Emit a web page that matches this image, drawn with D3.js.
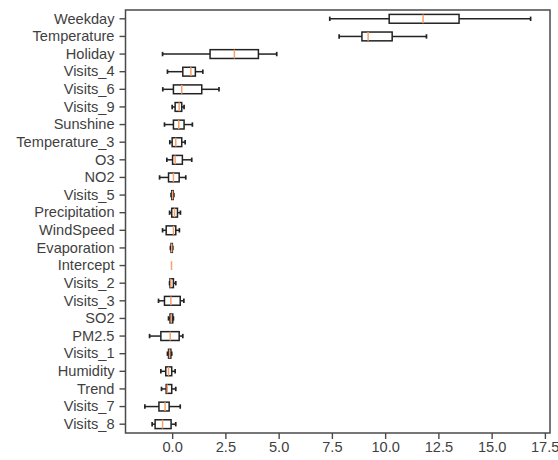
<!DOCTYPE html>
<html><head><meta charset="utf-8">
<script src="https://cdn.jsdelivr.net/npm/d3@7"></script>
<style>
body{margin:0;background:#fff;}
svg{display:block;font-family:"Liberation Sans",Arial,sans-serif;}
</style></head>
<body><svg id="c" width="558" height="460"></svg>
<script>
const categories = ["Weekday","Temperature","Holiday","Visits_4","Visits_6","Visits_9","Sunshine","Temperature_3","O3","NO2","Visits_5","Precipitation","WindSpeed","Evaporation","Intercept","Visits_2","Visits_3","SO2","PM2.5","Visits_1","Humidity","Trend","Visits_7","Visits_8"];
const whiskerLow = [7.40,7.84,-0.45,-0.22,-0.44,0.00,-0.36,-0.11,-0.25,-0.59,-0.05,-0.12,-0.45,-0.08,-0.03,-0.12,-0.64,-0.17,-1.06,-0.22,-0.53,-0.50,-1.28,-0.94];
const q1         = [10.19,8.91,1.78,0.50,0.06,0.14,0.06,0.00,0.02,-0.17,-0.02,-0.02,-0.28,-0.05,-0.03,-0.10,-0.36,-0.10,-0.53,-0.17,-0.30,-0.28,-0.62,-0.80];
const median     = [11.78,9.20,2.92,0.88,0.45,0.33,0.31,0.17,0.14,0.06,0.02,0.11,0.06,-0.02,-0.03,-0.06,-0.06,-0.04,-0.09,-0.12,-0.17,-0.23,-0.33,-0.45];
const q3         = [13.47,10.33,4.05,1.09,1.39,0.45,0.56,0.45,0.48,0.33,0.05,0.25,0.17,0.01,-0.03,0.06,0.38,0.03,0.33,-0.06,-0.02,-0.02,-0.14,-0.05];
const whiskerHigh= [16.83,11.94,4.91,1.44,2.20,0.56,0.95,0.61,0.92,0.64,0.08,0.39,0.34,0.03,-0.03,0.17,0.55,0.06,0.50,-0.02,0.14,0.17,0.38,0.17];
const xTicks = [0,2.5,5,7.5,10,12.5,15,17.5];

const data = categories.map((c,i)=>({c,lo:whiskerLow[i],q1:q1[i],med:median[i],q3:q3[i],hi:whiskerHigh[i]}));

const L=125.5, R=550, T=10, B=433;
const svg=d3.select("#c");
const x=d3.scaleLinear().domain([-2.19,17.74]).range([L,R]);
const y=d3.scaleBand().domain(categories).range([T,B]).padding(0);
const bw=y.bandwidth();
const cy=c=>y(c)+bw/2;
const ink="#222", fr="#4a4a4a", txt="#3f3f3f", medC="#f5a36a";

const g=svg.append("g");
const bx=g.selectAll("g.b").data(data).join("g").attr("class","b");
const hb=bw*0.25, hc=bw*0.125;
bx.append("line").attr("x1",d=>x(d.lo)).attr("x2",d=>x(d.q1)).attr("y1",d=>cy(d.c)).attr("y2",d=>cy(d.c)).attr("stroke",ink).attr("stroke-width",1.5);
bx.append("line").attr("x1",d=>x(d.q3)).attr("x2",d=>x(d.hi)).attr("y1",d=>cy(d.c)).attr("y2",d=>cy(d.c)).attr("stroke",ink).attr("stroke-width",1.5);
bx.filter(d=>d.hi>d.lo).append("line").attr("x1",d=>x(d.lo)).attr("x2",d=>x(d.lo)).attr("y1",d=>cy(d.c)-hc).attr("y2",d=>cy(d.c)+hc).attr("stroke",ink).attr("stroke-width",1.7);
bx.filter(d=>d.hi>d.lo).append("line").attr("x1",d=>x(d.hi)).attr("x2",d=>x(d.hi)).attr("y1",d=>cy(d.c)-hc).attr("y2",d=>cy(d.c)+hc).attr("stroke",ink).attr("stroke-width",1.7);
bx.filter(d=>d.q3>d.q1).append("rect").attr("x",d=>x(d.q1)).attr("width",d=>x(d.q3)-x(d.q1)).attr("y",d=>cy(d.c)-hb).attr("height",hb*2).attr("fill","none").attr("stroke",ink).attr("stroke-width",1.5);
bx.append("line").attr("x1",d=>x(d.med)).attr("x2",d=>x(d.med)).attr("y1",d=>cy(d.c)-hb).attr("y2",d=>cy(d.c)+hb).attr("stroke",medC).attr("stroke-width",1.5);

const ya=svg.append("g").attr("transform",`translate(${L},0)`).call(d3.axisLeft(y).tickSize(6).tickPadding(5));
ya.select(".domain").remove();
ya.selectAll(".tick line").attr("stroke",fr).attr("stroke-width",1.4);
ya.selectAll(".tick text").attr("fill",txt).style("font-size","14.6px");
const xa=svg.append("g").attr("transform",`translate(0,${B})`).call(d3.axisBottom(x).tickValues(xTicks).tickFormat(d3.format(".1f")).tickSize(6).tickPadding(3));
xa.select(".domain").remove();
xa.selectAll(".tick line").attr("stroke",fr).attr("stroke-width",1.4);
xa.selectAll(".tick text").attr("fill",txt).style("font-size","14.6px");
xa.selectAll(".tick text").filter(d=>d===17.5).attr("text-anchor","end").attr("dx","14");
svg.append("rect").attr("x",L).attr("y",T).attr("width",R-L).attr("height",B-T).attr("fill","none").attr("stroke",fr).attr("stroke-width",1.5);
</script></body></html>
